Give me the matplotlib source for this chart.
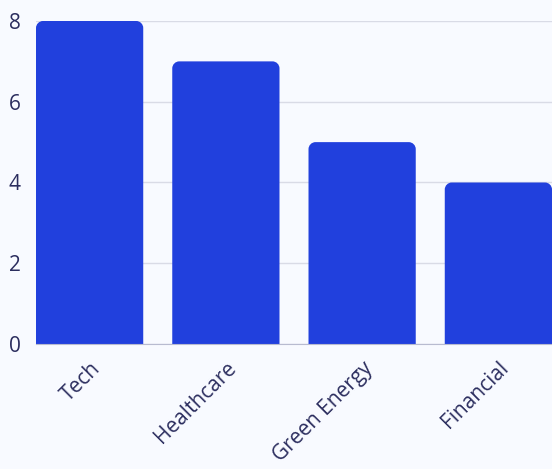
import matplotlib.pyplot as plt
from matplotlib.path import Path
from matplotlib.patches import PathPatch
import numpy as np

# data
categories = ['Tech', 'Healthcare', 'Green Energy', 'Financial']
values = [8, 7, 5, 4]
yticks = [0, 2, 4, 6, 8]

bg = '#F8FAFF'
bar_color = '#2140DD'
text_color = '#2B2D5E'

plt.rcParams['font.family'] = ['Open Sans', 'DejaVu Sans']

fig = plt.figure(figsize=(5.52, 4.69), dpi=100, facecolor=bg)
ax = fig.add_axes([36/552, 125/469, 516/552, 323/469], facecolor=bg)

width = 0.787
ax.set_xlim(-width/2, len(categories) - 1 + width/2)
ax.set_ylim(0, 8)

# rounded top corners, radius ~7px
rx = 7 / 136
ry = 7 / 40.4
k = 0.5523
for i, v in enumerate(values):
    x0, x1 = i - width/2, i + width/2
    verts = [(x0, 0), (x0, v - ry),
             (x0, v - ry + k*ry), (x0 + rx - k*rx, v), (x0 + rx, v),
             (x1 - rx, v),
             (x1 - rx + k*rx, v), (x1, v - ry + k*ry), (x1, v - ry),
             (x1, 0), (x0, 0)]
    codes = [Path.MOVETO, Path.LINETO,
             Path.CURVE4, Path.CURVE4, Path.CURVE4,
             Path.LINETO,
             Path.CURVE4, Path.CURVE4, Path.CURVE4,
             Path.LINETO, Path.CLOSEPOLY]
    ax.add_patch(PathPatch(Path(verts, codes), facecolor=bar_color,
                           edgecolor='none', zorder=3))

ax.set_yticks(yticks)
ax.set_xticks(range(len(categories)))
ax.set_xticklabels(categories, rotation=45, ha='right', rotation_mode='anchor')
ax.grid(axis='y', color='#D9DBE6', linewidth=1, zorder=0)
ax.tick_params(axis='both', length=0, labelsize=15, labelcolor=text_color)
ax.tick_params(axis='y', pad=11)
ax.tick_params(axis='x', pad=10)
for s in ['top', 'right', 'left']:
    ax.spines[s].set_visible(False)
ax.spines['bottom'].set_color('#B8BBD0')
ax.spines['bottom'].set_zorder(4)

fig.savefig('out.png', dpi=100, facecolor=bg)
